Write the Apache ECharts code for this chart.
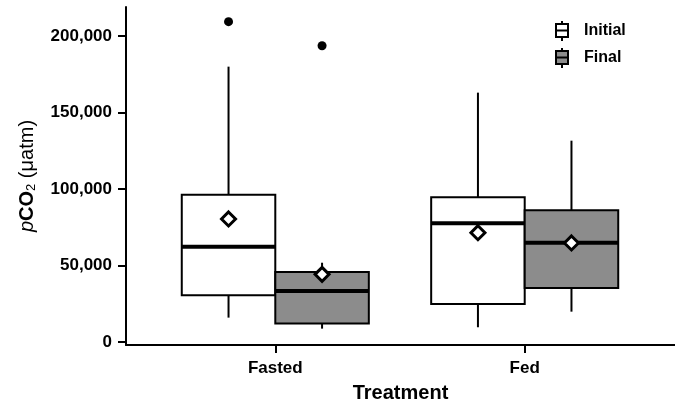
<!DOCTYPE html>
<html>
<head>
<meta charset="utf-8">
<script src="https://cdn.jsdelivr.net/npm/echarts@6/dist/echarts.min.js"></script>
<style>
  html, body { margin: 0; padding: 0; background: #fff; }
  #chart { width: 675px; height: 406px; }
</style>
</head>
<body>
<div id="chart"></div>
<script>
// treatment groups on the x axis
const categories = ["Fasted", "Fed"];
// [min, Q1, median, Q3, max] per treatment
const initialBox = [
  [15900, 30500, 62300, 96300, 180000],
  [9600, 24800, 77600, 94600, 163000],
];
const finalBox = [
  [8700, 12000, 33300, 45700, 51800],
  [19800, 35300, 64900, 86100, 131600],
];
const initialMean = [80400, 71400];
const finalMean = [44200, 64700];
// [treatment index, value]
const initialOutliers = [[0, 209400]];
const finalOutliers = [[0, 193700]];
const yTicks = [0, 50000, 100000, 150000, 200000];

const FONT = "'Liberation Sans', Arial, sans-serif";
const BOX_W = 0.375; // box width in category units
const GRAY = "#8c8c8c";

const withCommas = (v) => String(v).replace(/\B(?=(\d{3})+(?!\d))/g, ",");

const boxRenderer = (side, fill) => (params, api) => {
  const x = api.value(0);
  const left = side < 0 ? x - BOX_W : x;
  const right = side < 0 ? x : x + BOX_W;
  const cx = (left + right) / 2;
  const pMin = api.coord([cx, api.value(1)]);
  const pQ1 = api.coord([cx, api.value(2)]);
  const pMed = api.coord([cx, api.value(3)]);
  const pQ3 = api.coord([cx, api.value(4)]);
  const pMax = api.coord([cx, api.value(5)]);
  const xl = api.coord([left, 0])[0];
  const xr = api.coord([right, 0])[0];
  const line = { stroke: "#000", lineWidth: 2 };
  return {
    type: "group",
    children: [
      { type: "line", shape: { x1: pQ1[0], y1: pQ1[1], x2: pMin[0], y2: pMin[1] }, style: line },
      { type: "line", shape: { x1: pQ3[0], y1: pQ3[1], x2: pMax[0], y2: pMax[1] }, style: line },
      {
        type: "rect",
        shape: { x: xl, y: pQ3[1], width: xr - xl, height: pQ1[1] - pQ3[1] },
        style: { fill: fill, stroke: "#000", lineWidth: 2 },
      },
      { type: "line", shape: { x1: xl, y1: pMed[1], x2: xr, y2: pMed[1] }, style: { stroke: "#000", lineWidth: 4 } },
    ],
  };
};

const meanSeries = (name, values, side) => ({
  name: name,
  type: "scatter",
  symbol: "diamond",
  symbolSize: 14,
  itemStyle: { color: "#fff", borderColor: "#000", borderWidth: 3, opacity: 1 },
  data: values.map((v, i) => [i + side * BOX_W / 2, v]),
  z: 5,
});

const outlierSeries = (name, points, side) => ({
  name: name,
  type: "scatter",
  symbol: "circle",
  symbolSize: 9,
  itemStyle: { color: "#000", opacity: 1 },
  data: points.map((p) => [p[0] + side * BOX_W / 2, p[1]]),
  z: 5,
});

const chart = echarts.init(document.getElementById("chart"));
const option = {
  animation: false,
  textStyle: { fontFamily: FONT },
  grid: { left: 126, right: 0, top: 7, bottom: 61, containLabel: false, outerBoundsMode: "none" },
  legend: {
    data: ["Initial", "Final"],
    orient: "vertical",
    left: 555,
    top: 20,
    padding: 0,
    itemWidth: 23,
    itemHeight: 20,
    itemGap: 5,
    icon: "path://M6,0L6,3M0,3L12,3L12,16L0,16ZM0,9.5L12,9.5M6,16L6,20M23,0",
    itemStyle: { borderColor: "#000", borderWidth: 2 },
    textStyle: { fontFamily: FONT, fontSize: 16, fontWeight: "bold", color: "#000" },
  },
  xAxis: {
    type: "value",
    min: -0.5986,
    max: 1.6026,
    name: "Treatment",
    nameLocation: "middle",
    nameGap: 38,
    nameTextStyle: { fontFamily: FONT, fontSize: 20, fontWeight: "bold", color: "#000" },
    axisLine: { show: true, onZero: false, lineStyle: { color: "#000", width: 2 } },
    axisTick: { show: true, length: 8, lineStyle: { color: "#000", width: 2 }, customValues: [0, 1] },
    axisLabel: {
      customValues: [0, 1],
      formatter: (v) => categories[Math.round(v)],
      margin: 15,
      fontFamily: FONT,
      fontSize: 17,
      fontWeight: "bold",
      color: "#000",
    },
    splitLine: { show: false },
  },
  yAxis: {
    type: "value",
    min: -2000,
    max: 219000,
    name: "{i|p}{b|CO}{s|2}{n| (\u03bcatm)}",
    nameLocation: "middle",
    nameGap: 88,
    nameTextStyle: {
      color: "#000",
      rich: {
        i: { fontFamily: FONT, fontSize: 20, fontStyle: "italic", color: "#000" },
        b: { fontFamily: FONT, fontSize: 20, fontWeight: "bold", color: "#000" },
        s: { fontFamily: FONT, fontSize: 13, color: "#000", verticalAlign: "bottom", padding: [8, 0, 0, 0] },
        n: { fontFamily: FONT, fontSize: 20, color: "#000" },
      },
    },
    axisLine: { show: true, onZero: false, lineStyle: { color: "#000", width: 2 } },
    axisTick: { show: true, length: 8, lineStyle: { color: "#000", width: 2 }, customValues: yTicks },
    axisLabel: {
      customValues: yTicks,
      formatter: withCommas,
      margin: 14,
      fontFamily: FONT,
      fontSize: 17,
      fontWeight: "bold",
      color: "#000",
    },
    splitLine: { show: false },
  },
  series: [
    {
      name: "Initial",
      type: "custom",
      renderItem: boxRenderer(-1, "#fff"),
      itemStyle: { color: "#fff", borderColor: "#000" },
      encode: { x: 0, y: [1, 2, 3, 4, 5] },
      data: initialBox.map((b, i) => [i, ...b]),
      z: 2,
    },
    {
      name: "Final",
      type: "custom",
      renderItem: boxRenderer(1, GRAY),
      itemStyle: { color: GRAY, borderColor: "#000" },
      encode: { x: 0, y: [1, 2, 3, 4, 5] },
      data: finalBox.map((b, i) => [i, ...b]),
      z: 2,
    },
    meanSeries("Initial mean", initialMean, -1),
    meanSeries("Final mean", finalMean, 1),
    outlierSeries("Initial outlier", initialOutliers, -1),
    outlierSeries("Final outlier", finalOutliers, 1),
  ],
};
chart.setOption(option);
</script>
</body>
</html>
